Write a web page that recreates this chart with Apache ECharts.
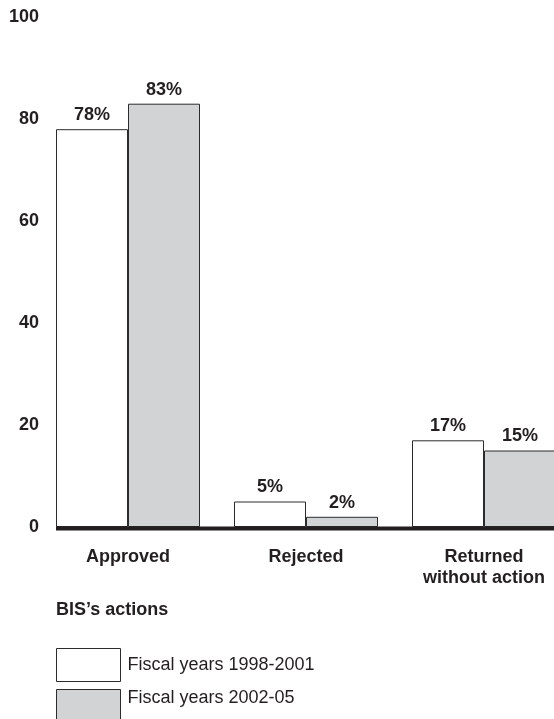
<!DOCTYPE html>
<html>
<head>
<meta charset="utf-8">
<script src="https://cdn.jsdelivr.net/npm/echarts@6/dist/echarts.min.js"></script>
<style>html,body{margin:0;padding:0;background:#fff;overflow:hidden;width:554px;height:719px;}#c{width:573px;height:719px;}</style>
</head>
<body>
<div id="c"></div>
<script>
const categories = ['Approved', 'Rejected', 'Returned\nwithout action'];
const seriesNames = ['Fiscal years 1998-2001', 'Fiscal years 2002-05'];
const values1998 = [78, 5, 17];
const values2002 = [83, 2, 15];
const yTicks = [0, 20, 40, 60, 80, 100];
const axisTitle = 'BIS\u2019s actions';

const FONT = '"Liberation Sans", Arial, Helvetica, sans-serif';
const TXT = '#231f20';
const BAR_W = 72;

const chart = echarts.init(document.getElementById('c'), null, {renderer: 'canvas'});
const labelCfg = {
  show: true, position: 'top', distance: 5,
  formatter: p => p.value + '%',
  fontFamily: FONT, fontWeight: 'bold', fontSize: 18, color: TXT
};
const legendBase = {
  orient: 'vertical', left: 56, padding: 0,
  itemWidth: 64, itemHeight: 33,
  icon: 'rect',
  itemStyle: {borderWidth: 1, borderColor: '#2b2b2b'}
};
chart.setOption({
  animation: false,
  backgroundColor: '#fff',
  grid: {left: 39, right: 0, top: 17, bottom: 192, containLabel: false},
  title: {
    text: axisTitle, left: 56, top: 601, padding: 0,
    textStyle: {fontFamily: FONT, fontWeight: 'bold', fontSize: 18, color: TXT}
  },
  legend: [
    Object.assign({}, legendBase, {
      top: 648, data: [seriesNames[0]],
      textStyle: {fontFamily: FONT, fontSize: 18, color: TXT, padding: [0, 0, 0, 2]}
    }),
    Object.assign({}, legendBase, {
      top: 689, data: [seriesNames[1]],
      formatter: '{up|{name}}',
      textStyle: {
        fontFamily: FONT, fontSize: 18, color: TXT,
        rich: {up: {fontFamily: FONT, fontSize: 18, color: TXT, padding: [0, 0, 16, 2]}}
      }
    })
  ],
  xAxis: {
    type: 'category', data: categories,
    axisLine: {show: false}, axisTick: {show: false},
    axisLabel: {
      margin: 20, lineHeight: 21,
      fontFamily: FONT, fontWeight: 'bold', fontSize: 18, color: TXT
    }
  },
  yAxis: {
    type: 'value', min: yTicks[0], max: yTicks[yTicks.length - 1], interval: 20,
    axisLine: {show: false}, axisTick: {show: false}, splitLine: {show: false},
    axisLabel: {margin: 0, fontFamily: FONT, fontWeight: 'bold', fontSize: 18, color: TXT}
  },
  series: [
    {
      name: seriesNames[0], type: 'bar', data: values1998,
      barWidth: BAR_W, barGap: '0%',
      itemStyle: {color: '#ffffff', borderColor: '#2b2b2b', borderWidth: 1},
      label: labelCfg
    },
    {
      name: seriesNames[1], type: 'bar', data: values2002,
      barWidth: BAR_W, barGap: '0%',
      itemStyle: {color: '#d2d3d5', borderColor: '#2b2b2b', borderWidth: 1},
      label: labelCfg
    }
  ]
});

// Baseline drawn from first bar's left edge to the last bar's right edge
const pL = chart.convertToPixel({gridIndex: 0}, [categories[0], 0]);
const pR = chart.convertToPixel({gridIndex: 0}, [categories[categories.length - 1], 0]);
chart.setOption({
  graphic: [{
    type: 'line', z: 100,
    shape: {x1: pL[0] - BAR_W, y1: pL[1] + 1.5, x2: pR[0] + BAR_W, y2: pR[1] + 1.5},
    style: {stroke: '#231f20', lineWidth: 4}
  }]
});
</script>
</body>
</html>
